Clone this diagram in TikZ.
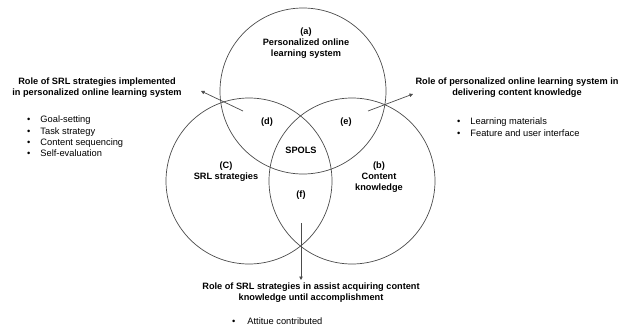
\documentclass[tikz,border=0pt]{standalone}
\usepackage{fontspec}
\setmainfont{Liberation Sans}
\usetikzlibrary{positioning,arrows.meta}

\begin{document}
\begin{tikzpicture}[x=1pt,y=-1pt,-,auto,
                    set node/.style={circle,draw=black!70,line width=0.7pt,minimum size=166pt,inner sep=0pt},
                    title node/.style={font=\fontsize{9.2}{11}\selectfont\bfseries,align=center,inner sep=0pt},
                    list node/.style={font=\fontsize{9.3}{11.2}\selectfont,align=left,inner sep=0pt,anchor=north west}]

  \useasboundingbox[fill=white] (0,0) rectangle (633,327);

  % the three sets
  \node[set node] (a) at (303,91) {};
  \node[set node] (c) at (249,181) {};
  \node[set node] (b) at (352,181) {};

  % set names
  \node[title node] (a text) at (306,43) {(a)\\Personalized online\\learning system};
  \node[title node] (c text) at (226,172) {(C)\\SRL strategies};
  \node[title node] (b text) at (379,177) {(b)\\Content\\knowledge};

  % overlaps
  \node[title node] (d) at (267,122) {(d)};
  \node[title node] (e) at (346,122) {(e)};
  \node[title node] (f) at (301,195) {(f)};
  \node[title node] (spols) at (301,150) {SPOLS};

  % roles of each overlap
  \node[title node] (d role) at (97,88) {Role of SRL strategies implemented\\in personalized online learning system};
  \node[title node] (e role) at (517,88) {Role of personalized online learning system in\\delivering content knowledge};
  \node[title node] (f role) at (311,292.5) {Role of SRL strategies in assist acquiring content\\knowledge until accomplishment};

  \node[list node] (d list) at (27,116) {\textbullet\hspace{10pt}Goal-setting\\\textbullet\hspace{10pt}Task strategy\\\textbullet\hspace{10pt}Content sequencing\\\textbullet\hspace{10pt}Self-evaluation};
  \node[list node] (e list) at (457,118) {\textbullet\hspace{10pt}Learning materials\\\textbullet\hspace{10pt}Feature and user interface};
  \node[list node] (f list) at (232,318) {\textbullet\hspace{12pt}Attitue contributed};

  % arrows out of the overlaps
  \coordinate (d tail) at (243,111);
  \coordinate (d head) at (201,91);
  \coordinate (e tail) at (368,111);
  \coordinate (e head) at (413,94);
  \coordinate (f tail) at (301,223);
  \coordinate (f head) at (301,280);

  \draw[black!70,line width=0.7pt,-{Triangle[length=3.5pt,width=3.5pt]}] (d tail) -- (d head);
  \draw[black!70,line width=0.7pt,-{Triangle[length=3.5pt,width=3.5pt]}] (e tail) -- (e head);
  \draw[black!70,line width=0.7pt,-{Triangle[length=3.5pt,width=3.5pt]}] (f tail) -- (f head);

\end{tikzpicture}
\end{document}
